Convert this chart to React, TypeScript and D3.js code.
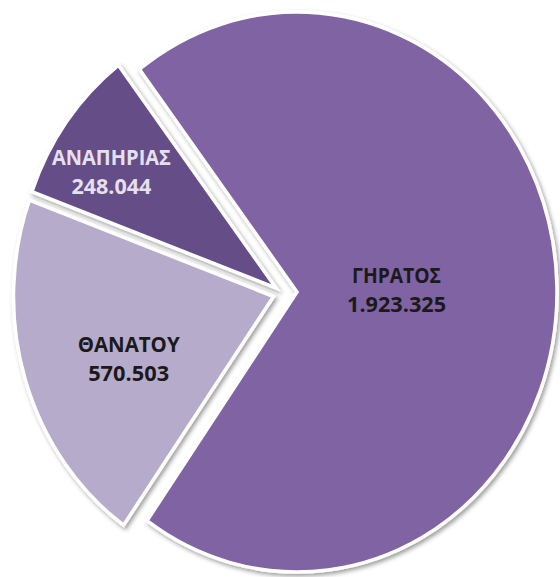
import React from "react";
import * as d3 from "d3";

// ---- data ----
const categories = ["ΓΗΡΑΤΟΣ", "ΘΑΝΑΤΟΥ", "ΑΝΑΠΗΡΙΑΣ"];
const values = [1923325, 570503, 248044];

// ---- styles / layout ----
const colors = ["#8064A2", "#B7ABCB", "#654D87"];
const textColors = ["#1a1a1a", "#1a1a1a", "#E6E0EE"];
// explosion offsets of each slice (px)
const offsets: [number, number][] = [[0, 0], [-23.5, 4.5], [-21, -4]];
// label placement: fraction along slice angle, fraction of radius
const labelT = [0.5, 0.44, 0.4];
const labelF = [0.383, 0.6, 0.756];
// rendered text widths (category line, value line)
const catWidths = [89, 102, 119];
const valWidths = [99, 81, 80];

const W = 560;
const H = 577;
const cx = 297;
const cy = 292;
const rx = 260;
const ry = 280;
const startDeg = -37.3;

const locale = d3.formatLocale({
  decimal: ",",
  thousands: ".",
  grouping: [3],
  currency: ["", "€"],
});
const fmt = locale.format(",d");

export default function App() {
  const s = (startDeg * Math.PI) / 180;
  const pie = d3
    .pie<number>()
    .sort(null)
    .value((d) => d)
    .startAngle(s)
    .endAngle(s + 2 * Math.PI);
  const arcs = pie(values);
  const arc = d3.arc<d3.PieArcDatum<number>>().innerRadius(0).outerRadius(ry);

  return (
    <svg
      width={W}
      height={H}
      style={{ position: "absolute", left: 0, top: 0, background: "#fff" }}
    >
      <defs>
        <filter id="sh" x="-20%" y="-20%" width="140%" height="140%">
          <feDropShadow dx="2" dy="2.5" stdDeviation="2.2" floodColor="#000" floodOpacity="0.38" />
        </filter>
      </defs>
      {arcs.map((a, i) => {
        const ox = cx + offsets[i][0];
        const oy = cy + offsets[i][1];
        return (
          <g key={"s" + i} filter="url(#sh)">
            <path
              d={arc(a) || ""}
              transform={`translate(${ox},${oy}) scale(${rx / ry},1)`}
              fill={colors[i]}
              stroke="#ffffff"
              strokeWidth={3.5}
              strokeLinejoin="miter"
              vectorEffect="non-scaling-stroke"
            />
          </g>
        );
      })}
      {arcs.map((a, i) => {
        const ox = cx + offsets[i][0];
        const oy = cy + offsets[i][1];
        const ang = a.startAngle + labelT[i] * (a.endAngle - a.startAngle);
        const x = ox + labelF[i] * rx * Math.sin(ang);
        const y = oy - labelF[i] * ry * Math.cos(ang);
        return (
          <g
            key={"l" + i}
            fontFamily="'Open Sans', 'Noto Sans', sans-serif"
            fontWeight="bold"
            fontSize={21}
            fill={textColors[i]}
            textAnchor="middle"
          >
            <text x={x} y={y - 7} textLength={catWidths[i]} lengthAdjust="spacingAndGlyphs">
              {categories[i]}
            </text>
            <text x={x} y={y + 22} textLength={valWidths[i]} lengthAdjust="spacingAndGlyphs">
              {fmt(values[i])}
            </text>
          </g>
        );
      })}
    </svg>
  );
}
